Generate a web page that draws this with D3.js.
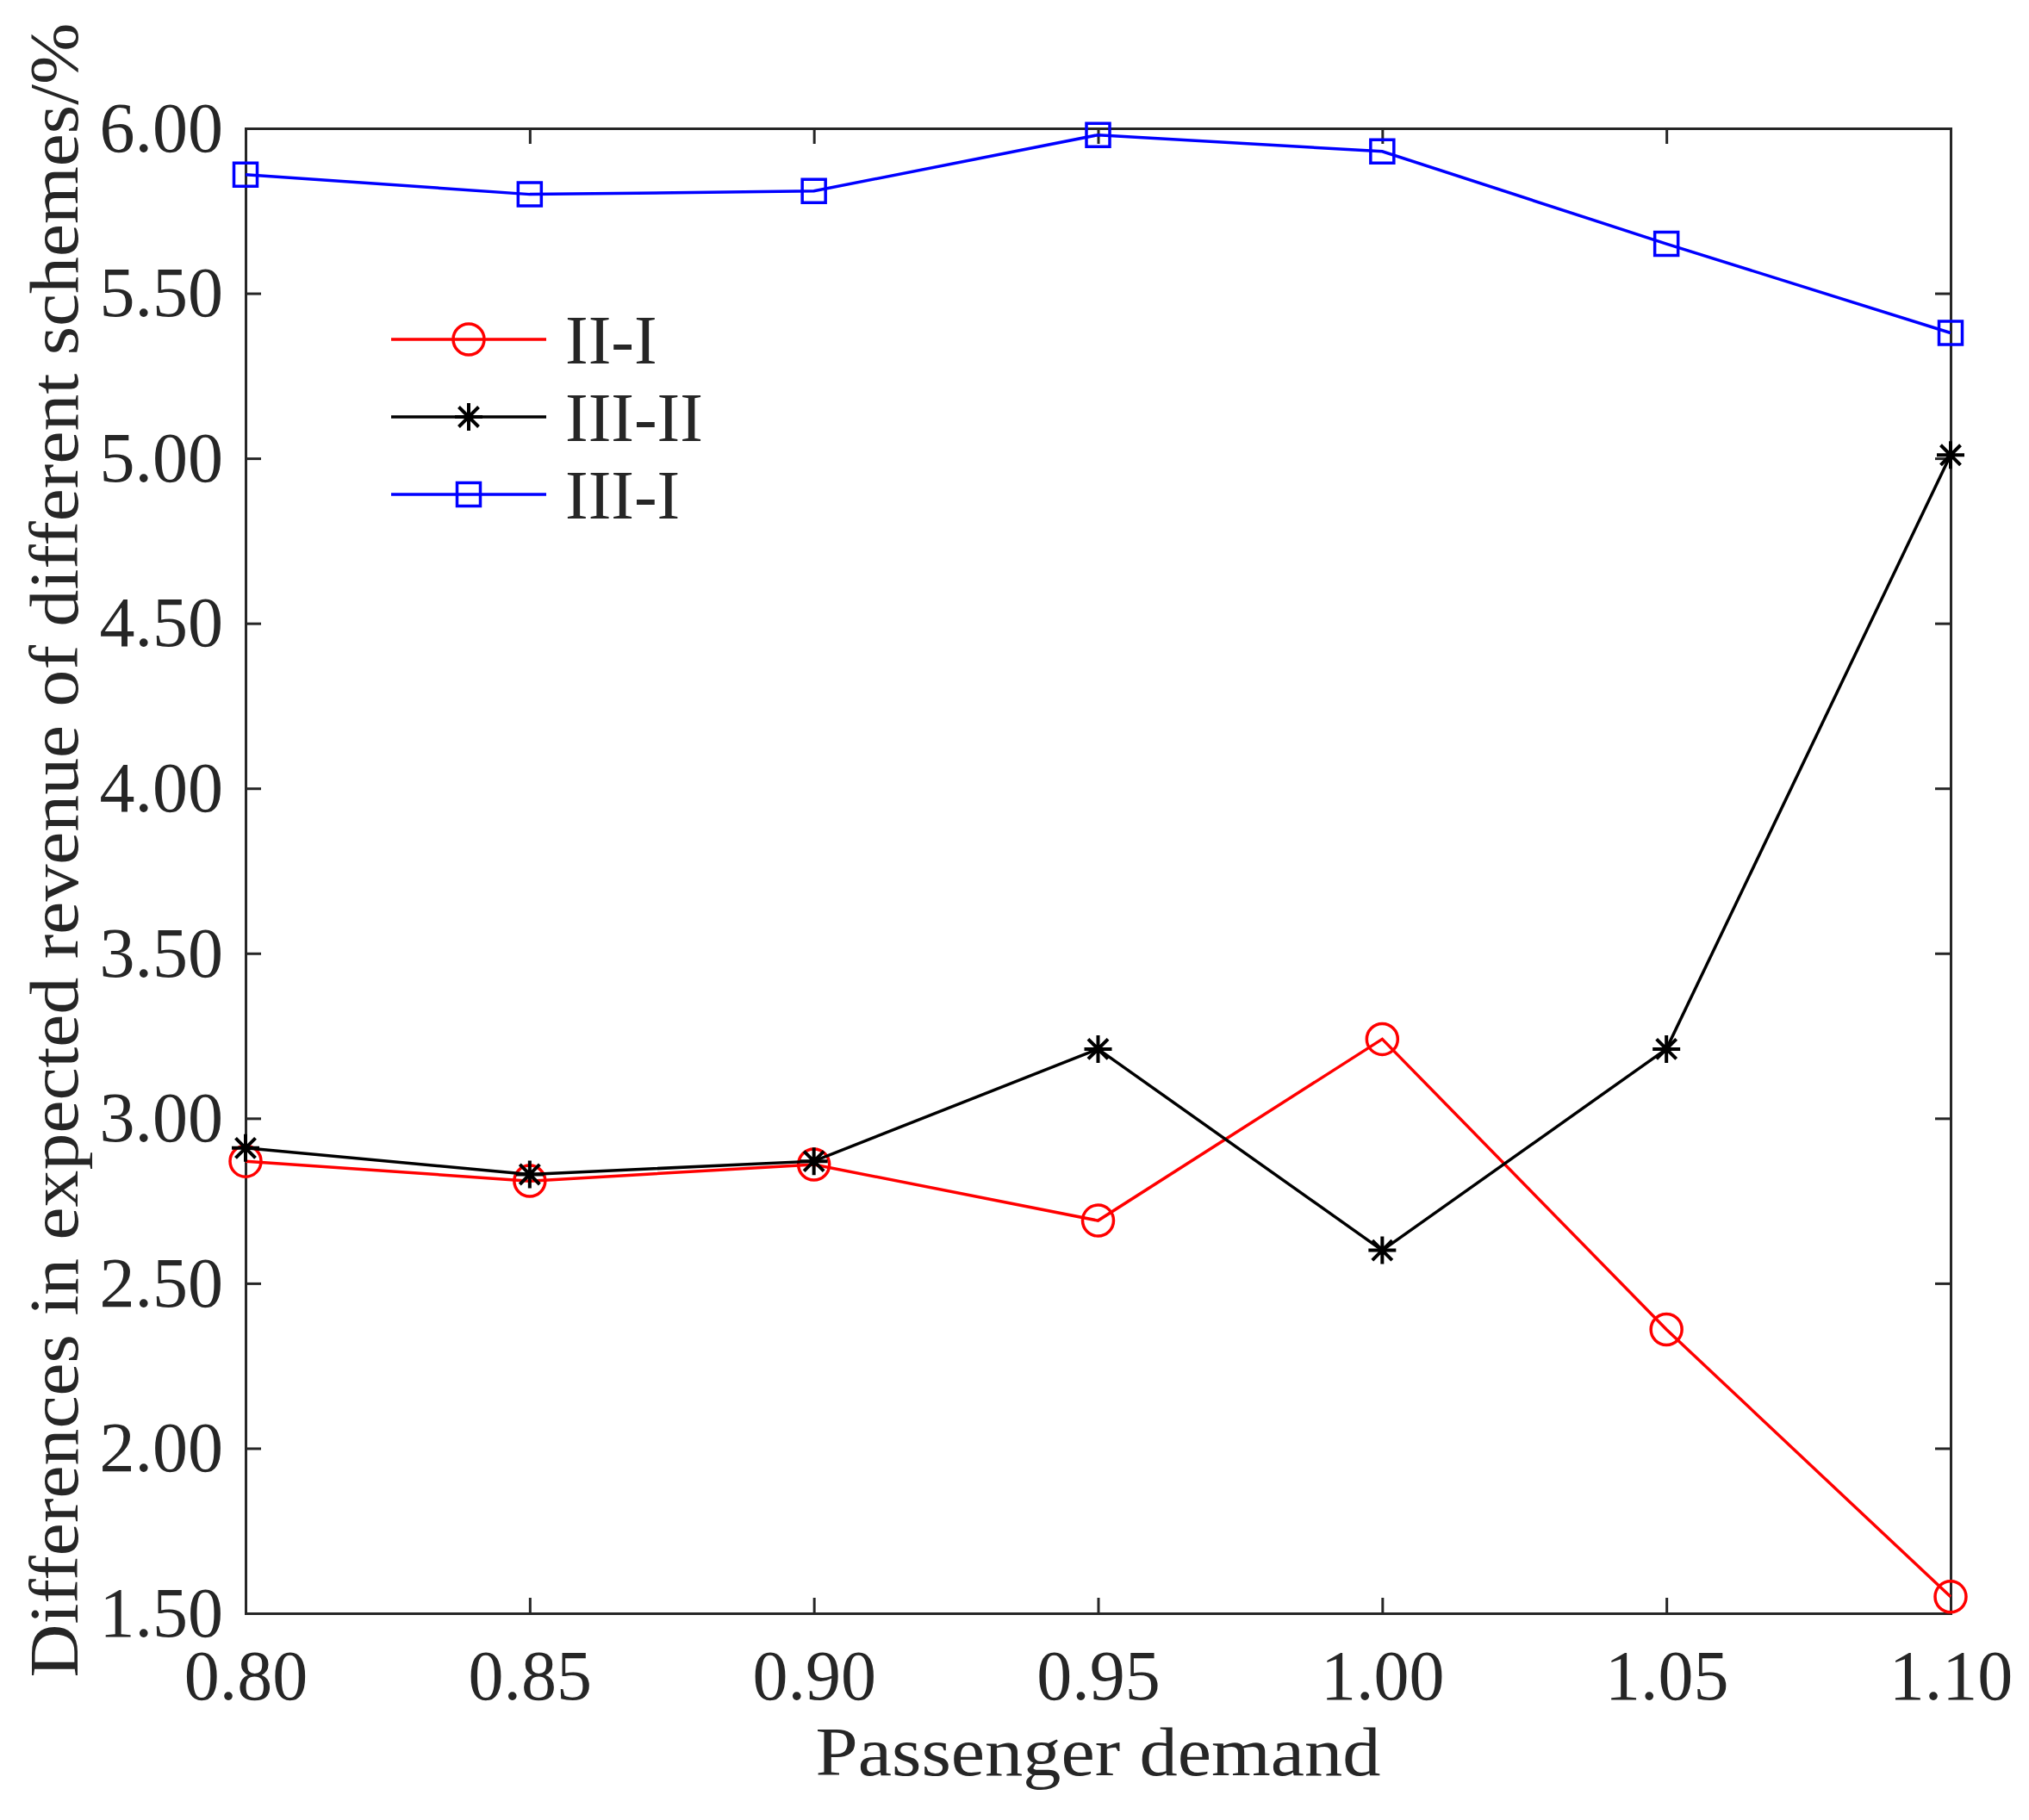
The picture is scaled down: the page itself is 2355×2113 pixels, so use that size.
<!DOCTYPE html>
<html>
<head>
<meta charset="utf-8">
<script src="https://cdn.jsdelivr.net/npm/d3@7"></script>
<style>
	html, body { margin: 0; padding: 0; background: #fff; }
	text { font-family: 'Liberation Serif', 'DejaVu Serif', serif; fill: #262626; }
</style>
</head>
<body>
<div class="chart"></div>
<script>
// passenger demand levels (x)
const demand = [0.80, 0.85, 0.90, 0.95, 1.00, 1.05, 1.10]
// differences in expected revenue, %
const diffII_I = [2.87, 2.81, 2.86, 2.69, 3.24, 2.36, 1.55]
const diffIII_II = [2.91, 2.83, 2.87, 3.21, 2.60, 3.21, 5.01]
const diffIII_I = [5.86, 5.80, 5.81, 5.98, 5.93, 5.65, 5.38]
const seriesNames = ['II-I', 'III-II', 'III-I']
const xTicks = [0.80, 0.85, 0.90, 0.95, 1.00, 1.05, 1.10]
const yTicks = [1.50, 2.00, 2.50, 3.00, 3.50, 4.00, 4.50, 5.00, 5.50, 6.00]

const W = 2355, H = 2113
const margin = { top: 149, right: 91, bottom: 240, left: 285 }
const graphWidth = W - margin.left - margin.right
const graphHeight = H - margin.top - margin.bottom

const svg = d3.select('.chart')
	.append('svg')
	.attr('width', W)
	.attr('height', H)

const graph = svg.append('g')
	.attr('transform', `translate(${margin.left}, ${margin.top})`)

const x = d3.scaleLinear().domain([0.80, 1.10]).range([0, graphWidth])
const y = d3.scaleLinear().domain([1.50, 6.00]).range([graphHeight, 0])

const axisColor = '#262626'
const tickLen = 18

// axes (ticks point inwards, mirrored on top/right)
const xAxis = d3.axisBottom(x).tickValues(xTicks).tickSize(-tickLen).tickPadding(42).tickFormat(d3.format('.2f'))
const yAxis = d3.axisLeft(y).tickValues(yTicks).tickSize(-tickLen).tickPadding(26).tickFormat(d3.format('.2f'))
const xTop = d3.axisTop(x).tickValues(xTicks).tickSize(-tickLen).tickFormat('')
const yRight = d3.axisRight(y).tickValues(yTicks).tickSize(-tickLen).tickFormat('')

const styleAxis = g => {
	g.selectAll('.domain').attr('stroke', axisColor).attr('stroke-width', 3)
	g.selectAll('.tick line').attr('stroke', axisColor).attr('stroke-width', 3)
	g.selectAll('.tick text').attr('font-size', 82).attr('fill', axisColor)
		.style('font-family', "'Liberation Serif', serif")
}

graph.append('g').attr('transform', `translate(0, ${graphHeight})`).call(xAxis).call(styleAxis)
graph.append('g').call(yAxis).call(styleAxis)
graph.append('g').call(xTop).call(styleAxis)
graph.append('g').attr('transform', `translate(${graphWidth}, 0)`).call(yRight).call(styleAxis)

// axis labels
svg.append('text')
	.attr('x', margin.left + graphWidth / 2)
	.attr('y', 2061)
	.attr('text-anchor', 'middle')
	.attr('font-size', 80)
	.attr('textLength', 656)
	.attr('lengthAdjust', 'spacingAndGlyphs')
	.text('Passenger demand')

svg.append('text')
	.attr('transform', `translate(90, 987) rotate(-90)`)
	.attr('text-anchor', 'middle')
	.attr('font-size', 80)
	.attr('textLength', 1921)
	.attr('lengthAdjust', 'spacingAndGlyphs')
	.text('Differences in expected revenue of different schemes/%')

// series
const series = [
	{ name: seriesNames[0], values: diffII_I, color: '#ff0000', marker: 'circle' },
	{ name: seriesNames[1], values: diffIII_II, color: '#000000', marker: 'star' },
	{ name: seriesNames[2], values: diffIII_I, color: '#0000ff', marker: 'square' }
]

const line = d3.line().x(d => x(d[0])).y(d => y(d[1]))

const markerPath = (type) => {
	if (type === 'circle') return d3.symbol(d3.symbolCircle, Math.PI * 18 * 18)()
	if (type === 'square') return d3.symbol(d3.symbolSquare, 27 * 27)()
	// asterisk: horizontal, vertical and two diagonals
	const r = 16, k = r * 0.72
	return `M${-r},0L${r},0M0,${-r}L0,${r}M${-k},${-k}L${k},${k}M${-k},${k}L${k},${-k}`
}

series.forEach(s => {
	const pts = demand.map((d, i) => [d, s.values[i]])
	graph.append('path')
		.datum(pts)
		.attr('d', line)
		.attr('fill', 'none')
		.attr('stroke', s.color)
		.attr('stroke-width', 3.5)

	graph.selectAll(null)
		.data(pts)
		.enter()
		.append('path')
		.attr('d', markerPath(s.marker))
		.attr('transform', d => `translate(${x(d[0])}, ${y(d[1])})`)
		.attr('fill', 'none')
		.attr('stroke', s.color)
		.attr('stroke-width', s.marker === 'star' ? 4 : 3.5)
})

// legend
const legend = svg.append('g').attr('transform', 'translate(454, 394)')
series.forEach((s, i) => {
	const row = legend.append('g').attr('transform', `translate(0, ${i * 90})`)
	row.append('line')
		.attr('x1', 0).attr('x2', 180)
		.attr('y1', 0).attr('y2', 0)
		.attr('stroke', s.color)
		.attr('stroke-width', 3.5)
	row.append('path')
		.attr('d', markerPath(s.marker))
		.attr('transform', 'translate(90, 0)')
		.attr('fill', 'none')
		.attr('stroke', s.color)
		.attr('stroke-width', s.marker === 'star' ? 4 : 3.5)
	row.append('text')
		.attr('x', 202)
		.attr('y', 28)
		.attr('font-size', 80)
		.text(s.name)
})
</script>
</body>
</html>
